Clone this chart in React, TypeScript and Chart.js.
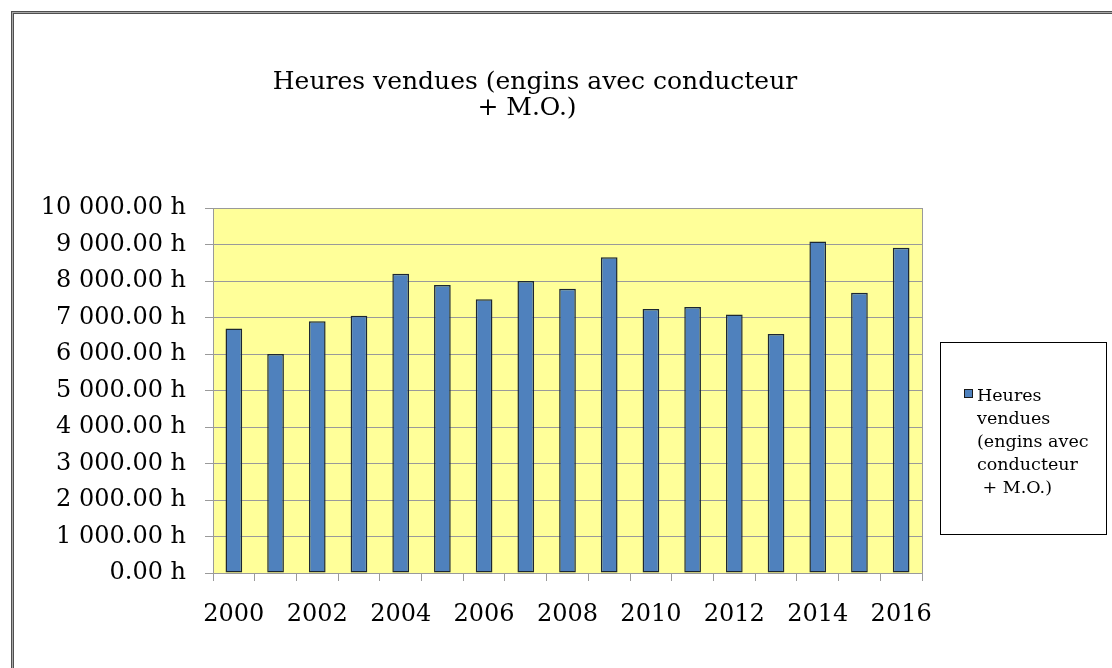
import React, { useEffect, useRef } from "react";
import { Chart, registerables } from "chart.js";

Chart.register(...registerables);

const years = ["2000", "2001", "2002", "2003", "2004", "2005", "2006", "2007", "2008", "2009", "2010", "2011", "2012", "2013", "2014", "2015", "2016"];
const hours = [6700, 6000, 6900, 7050, 8200, 7890, 7500, 8000, 7790, 8650, 7230, 7290, 7080, 6550, 9080, 7680, 8910];
const titleLines = ["Heures vendues (engins avec conducteur", "+ M.O.)"];
const legendLines = ["Heures", "vendues", "(engins avec", "conducteur", " + M.O.)"];
const seriesName = "Heures vendues (engins avec conducteur + M.O.)";

const FONT = "'DejaVu Serif', serif";

function fmtHours(v: number): string {
  const s = Math.abs(v).toFixed(2);
  const [ip, dp] = s.split(".");
  const withSp = ip.replace(/\B(?=(\d{3})+(?!\d))/g, " ");
  return withSp + "." + dp + " h";
}

const W = 1112;
const H = 668;
const AREA = { left: 213, top: 208, right: 922, bottom: 573 };

const decorPlugin = {
  id: "decor",
  beforeDraw(chart: any) {
    const { ctx, chartArea } = chart;
    ctx.save();
    ctx.fillStyle = "#ffffff";
    ctx.fillRect(0, 0, W, H);
    ctx.fillStyle = "#FFFF99";
    ctx.fillRect(chartArea.left, chartArea.top, chartArea.right - chartArea.left, chartArea.bottom - chartArea.top);
    ctx.restore();
  },
  afterDraw(chart: any) {
    const { ctx, chartArea } = chart;
    ctx.save();
    // outer frame
    ctx.lineWidth = 1;
    ctx.strokeStyle = "#505050";
    ctx.strokeRect(11.5, 11.5, W + 20, H + 20);
    ctx.strokeStyle = "#a8a8a8";
    ctx.strokeRect(12.5, 12.5, W + 20, H + 20);
    ctx.strokeStyle = "#505050";
    ctx.strokeRect(13.5, 13.5, W + 20, H + 20);
    // plot right edge
    ctx.strokeStyle = "#9a9a9a";
    ctx.beginPath();
    ctx.moveTo(Math.round(chartArea.right) + 0.5, chartArea.top);
    ctx.lineTo(Math.round(chartArea.right) + 0.5, chartArea.bottom + 8);
    ctx.stroke();
    // title
    ctx.fillStyle = "#000000";
    ctx.textAlign = "center";
    ctx.textBaseline = "middle";
    ctx.font = "25px " + FONT;
    ctx.fillText(titleLines[0], 535, 82);
    ctx.fillText(titleLines[1], 527, 108);
    // legend box
    ctx.strokeStyle = "#000000";
    ctx.lineWidth = 1;
    ctx.strokeRect(940.5, 342.5, 166, 192);
    const ds = chart.data.datasets[0];
    ctx.fillStyle = ds.backgroundColor;
    ctx.fillRect(964, 389, 9, 9);
    ctx.strokeStyle = "#1a1a1a";
    ctx.strokeRect(964.5, 389.5, 8, 8);
    ctx.fillStyle = "#000000";
    ctx.textAlign = "left";
    ctx.textBaseline = "alphabetic";
    ctx.font = "17.5px " + FONT;
    const ys = [401, 424, 447, 470, 493];
    legendLines.forEach((t, i) => ctx.fillText(t, 977, ys[i]));
    ctx.restore();
  },
};

export default function App() {
  const ref = useRef<HTMLCanvasElement>(null);
  useEffect(() => {
    if (!ref.current) return;
    const chart = new Chart(ref.current, {
      type: "bar",
      data: {
        labels: years,
        datasets: [
          {
            label: seriesName,
            data: hours,
            backgroundColor: "#4F81BD",
            borderColor: "#1c2733",
            borderWidth: 1.5,
            borderSkipped: false,
            barPercentage: 0.4,
            categoryPercentage: 1,
          },
        ],
      },
      options: {
        responsive: false,
        animation: false,
        layout: { padding: { left: 0, top: AREA.top, right: W - AREA.right, bottom: 0 } },
        plugins: { legend: { display: false }, title: { display: false }, tooltip: { enabled: false } },
        scales: {
          x: {
            offset: true,
            grid: { display: true, drawOnChartArea: false, drawTicks: true, tickLength: 8, offset: true, color: "#9a9a9a" },
            border: { display: true, color: "#9a9a9a" },
            ticks: {
              autoSkip: false,
              maxRotation: 0,
              color: "#000000",
              font: { family: FONT, size: 24 },
              padding: 19,
              callback: (_v: any, i: number) => (i % 2 === 0 ? years[i] : ""),
            },
            afterFit: (s: any) => {
              s.height = H - AREA.bottom;
            },
          },
          y: {
            min: 0,
            max: 10000,
            ticks: {
              stepSize: 1000,
              color: "#000000",
              font: { family: FONT, size: 24 },
              padding: 19,
              callback: (v: any) => fmtHours(Number(v)),
            },
            grid: { color: "#9a9a9a", tickLength: 8, drawTicks: true },
            border: { display: true, color: "#9a9a9a" },
            afterFit: (s: any) => {
              s.width = AREA.left;
            },
          },
        },
      },
      plugins: [decorPlugin],
    });
    return () => chart.destroy();
  }, []);
  return (
    <div style={{ position: "absolute", left: 0, top: 0, width: W, height: H }}>
      <canvas ref={ref} width={W} height={H} style={{ width: W, height: H, display: "block" }} />
    </div>
  );
}
